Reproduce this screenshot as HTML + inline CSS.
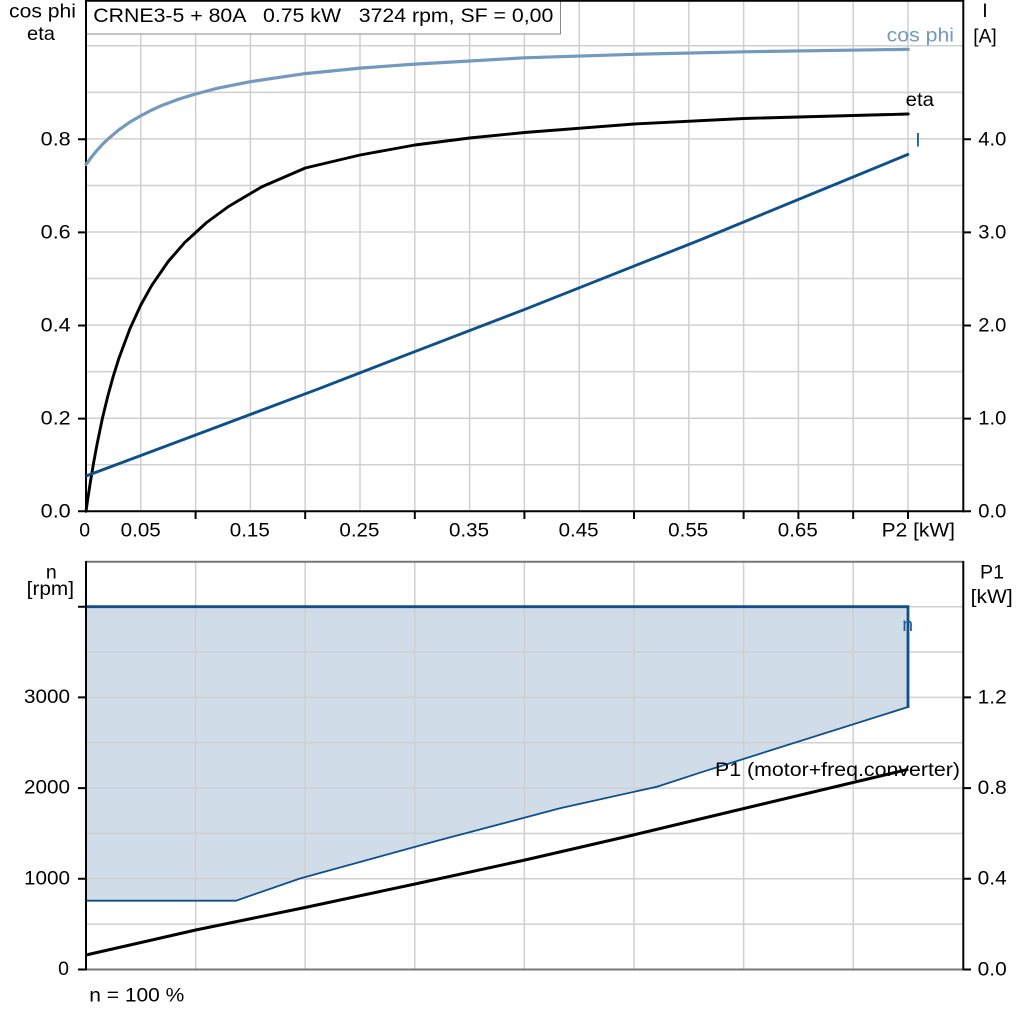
<!DOCTYPE html>
<html><head><meta charset="utf-8"><style>
html,body{margin:0;padding:0;background:#fff;}
svg{display:block;}
text{font-family:"Liberation Sans",Arial,sans-serif;font-size:19.5px;fill:#000;white-space:pre;}
</style></head><body>
<svg width="1024" height="1024" viewBox="0 0 1024 1024" xmlns="http://www.w3.org/2000/svg" xml:space="preserve">
<rect width="1024" height="1024" fill="#fff"/>
<!-- TOP PANEL GRID -->
<g stroke="#d0d0d0" stroke-width="1.5" fill="none">
<path d="M140.8 0V511M195.6 0V511M250.4 0V511M305.2 0V511M360 0V511M414.8 0V511M469.6 0V511M524.4 0V511M579.2 0V511M634 0V511M688.8 0V511M743.6 0V511M798.4 0V511M853.2 0V511M908 0V511"/>
<path d="M86 464.75H963M86 418.2H963M86 371.65H963M86 325.1H963M86 278.55H963M86 232H963M86 185.45H963M86 138.9H963M86 92.35H963M86 45.8H963"/>
</g>
<!-- title box -->
<rect x="86.5" y="0.5" width="474" height="33.5" fill="#fff" stroke="#8a8a8a" stroke-width="1"/>
<text x="93.3" y="22" textLength="460" lengthAdjust="spacingAndGlyphs">CRNE3-5 + 80A   0.75 kW   3724 rpm, SF = 0,00</text>
<!-- top frame -->
<g stroke="#000" stroke-width="2" fill="none">
<path d="M86 0.8H963.3"/>
<path d="M86 0V512.3"/>
<path d="M963.3 0V512.3"/>
<path d="M85 511.3H964.3"/>
<path d="M78 139.3H86M78 232.4H86M78 325.5H86M78 418.6H86M78 511.3H86"/>
<path d="M963 139.3H971M963 232.4H971M963 325.5H971M963 418.6H971M963 511.3H971"/>
<path d="M195.6 511V519M305.2 511V519M414.8 511V519M524.4 511V519M634 511V519M743.6 511V519M798.4 511V519M853.2 511V519M908 511V519"/>
</g>
<!-- curves top -->
<polyline fill="none" stroke="#7399bf" stroke-width="3.2" stroke-linejoin="round" stroke-linecap="round" points="86,164.5 91.5,157 96.96,150.4 102.4,144.4 107.9,139.1 118.9,129.8 129.9,122.1 140.8,115.8 151.8,110 162.7,105.1 179.2,99 195.6,94 217.6,88.2 250.4,81.7 305.2,73.6 360.1,68.1 414.9,64.1 469.7,61 524.5,57.8 634.1,54.3 743.8,51.8 908.2,49.3"/>
<polyline fill="none" stroke="#000" stroke-width="2.9" stroke-linejoin="round" stroke-linecap="round" points="86,511.3 88.2,496.1 90.4,481.9 93.7,462.3 97,444.5 102.4,418.3 107.9,395.7 113.4,375.8 118.9,358.3 129.9,328.8 140.8,305 151.8,285.3 168.2,261.5 184.7,242.6 206.6,222.5 228.5,206.5 261.4,187 305.3,168 360.1,155 414.9,145 469.7,138 524.5,132.5 634.1,124 743.8,118.5 908.2,114"/>
<polyline fill="none" stroke="#0f4f8a" stroke-width="2.9" stroke-linejoin="round" points="86,476 195.6,435 320,388.3 400,357.3 525,309.3 635,265.7 700,240 909,154"/>
<!-- top labels -->
<text x="9" y="17.5" textLength="67" lengthAdjust="spacingAndGlyphs">cos phi</text>
<text x="27" y="40" textLength="28" lengthAdjust="spacingAndGlyphs">eta</text>
<text x="985" y="17" text-anchor="middle">I</text>
<text x="973.3" y="42.7" textLength="23.4" lengthAdjust="spacingAndGlyphs">[A]</text>
<g text-anchor="end">
<text x="70.7" y="145.3" textLength="30" lengthAdjust="spacingAndGlyphs">0.8</text>
<text x="70.7" y="238.4" textLength="30" lengthAdjust="spacingAndGlyphs">0.6</text>
<text x="70.7" y="331.5" textLength="30" lengthAdjust="spacingAndGlyphs">0.4</text>
<text x="70.7" y="424.6" textLength="30" lengthAdjust="spacingAndGlyphs">0.2</text>
<text x="70.7" y="517.3" textLength="30" lengthAdjust="spacingAndGlyphs">0.0</text>
</g>
<text x="978.3" y="145.3" textLength="28" lengthAdjust="spacingAndGlyphs">4.0</text>
<text x="978.3" y="238.4" textLength="28" lengthAdjust="spacingAndGlyphs">3.0</text>
<text x="978.3" y="331.5" textLength="28" lengthAdjust="spacingAndGlyphs">2.0</text>
<text x="978.3" y="424.6" textLength="28" lengthAdjust="spacingAndGlyphs">1.0</text>
<text x="978.3" y="517.3" textLength="28" lengthAdjust="spacingAndGlyphs">0.0</text>
<text x="84.7" y="536.7" text-anchor="middle">0</text>
<text x="120.7" y="536.7" textLength="40" lengthAdjust="spacingAndGlyphs">0.05</text>
<text x="229.8" y="536.7" textLength="40" lengthAdjust="spacingAndGlyphs">0.15</text>
<text x="339.4" y="536.7" textLength="40" lengthAdjust="spacingAndGlyphs">0.25</text>
<text x="449" y="536.7" textLength="40" lengthAdjust="spacingAndGlyphs">0.35</text>
<text x="558.6" y="536.7" textLength="40" lengthAdjust="spacingAndGlyphs">0.45</text>
<text x="668.2" y="536.7" textLength="40" lengthAdjust="spacingAndGlyphs">0.55</text>
<text x="777.8" y="536.7" textLength="40" lengthAdjust="spacingAndGlyphs">0.65</text>
<text x="881.7" y="536.7" textLength="73.3" lengthAdjust="spacingAndGlyphs">P2 [kW]</text>
<text x="886.7" y="41.7" textLength="67.3" lengthAdjust="spacingAndGlyphs" style="fill:#7399bf">cos phi</text>
<text x="905.7" y="106" textLength="28.3" lengthAdjust="spacingAndGlyphs">eta</text>
<text x="918" y="146.7" text-anchor="middle" style="fill:#1a5a96">I</text>

<!-- BOTTOM PANEL -->
<polygon fill="#d0dce7" points="86,606.7 908,606.7 908,707 700,772.7 657,786.7 560,808.3 440,840 300,878.5 236,900.7 86,900.7"/>
<g stroke="#d0d0d0" stroke-width="1.5" fill="none">
<path d="M195.6 562V969M305.2 562V969M414.8 562V969M524.4 562V969M634 562V969M743.6 562V969M853.2 562V969"/>
<path d="M86 924.15H963M86 878.8H963M86 833.45H963M86 788.1H963M86 742.75H963M86 697.4H963M86 652.05H963M86 606.7H963"/>
</g>
<polyline fill="none" stroke="#0f4f8a" stroke-width="1.8" points="86,900.7 236,900.7 300,878.5 440,840 560,808.3 657,786.7 700,772.7 908,707"/>
<polyline fill="none" stroke="#0f4f8a" stroke-width="2.8" points="86,606.7 908,606.7 908,708"/>
<polyline fill="none" stroke="#000" stroke-width="3" stroke-linejoin="round" points="86,955 195.7,930 305,907.5 415,884 525,860 633.3,835 700,819 908.3,769.3"/>
<g stroke="#777" stroke-width="2" fill="none">
<path d="M86 561.7H963.3"/>
<path d="M86 969.5H963.3"/>
</g>
<g stroke="#000" stroke-width="2" fill="none">
<path d="M86 561V970.5"/>
<path d="M963.3 561V970.5"/>
<path d="M78 606.7H86M78 697.4H86M78 788.1H86M78 878.8H86M78 969.5H86"/>
<path d="M963 697.4H971M963 788.1H971M963 878.8H971M963 969.5H971"/>
</g>
<text x="51.3" y="578.3" text-anchor="middle">n</text>
<text x="26.7" y="595" textLength="47.3" lengthAdjust="spacingAndGlyphs">[rpm]</text>
<g text-anchor="end">
<text x="70" y="702.9" textLength="46" lengthAdjust="spacingAndGlyphs">3000</text>
<text x="70" y="793.6" textLength="46" lengthAdjust="spacingAndGlyphs">2000</text>
<text x="70" y="884.3" textLength="46" lengthAdjust="spacingAndGlyphs">1000</text>
<text x="69" y="975">0</text>
</g>
<text x="980" y="578.3" textLength="24" lengthAdjust="spacingAndGlyphs">P1</text>
<text x="970.7" y="603" textLength="42" lengthAdjust="spacingAndGlyphs">[kW]</text>
<text x="977.7" y="703.3" textLength="29" lengthAdjust="spacingAndGlyphs">1.2</text>
<text x="977.7" y="794" textLength="29" lengthAdjust="spacingAndGlyphs">0.8</text>
<text x="977.7" y="884.7" textLength="29" lengthAdjust="spacingAndGlyphs">0.4</text>
<text x="977.7" y="975.4" textLength="29" lengthAdjust="spacingAndGlyphs">0.0</text>
<text x="907.7" y="631" text-anchor="middle" style="fill:#1a5a96">n</text>
<text x="715" y="776" textLength="245" lengthAdjust="spacingAndGlyphs">P1 (motor+freq.converter)</text>
<text x="89.3" y="1001.7" textLength="95" lengthAdjust="spacingAndGlyphs">n = 100 %</text>
</svg>
</body></html>
